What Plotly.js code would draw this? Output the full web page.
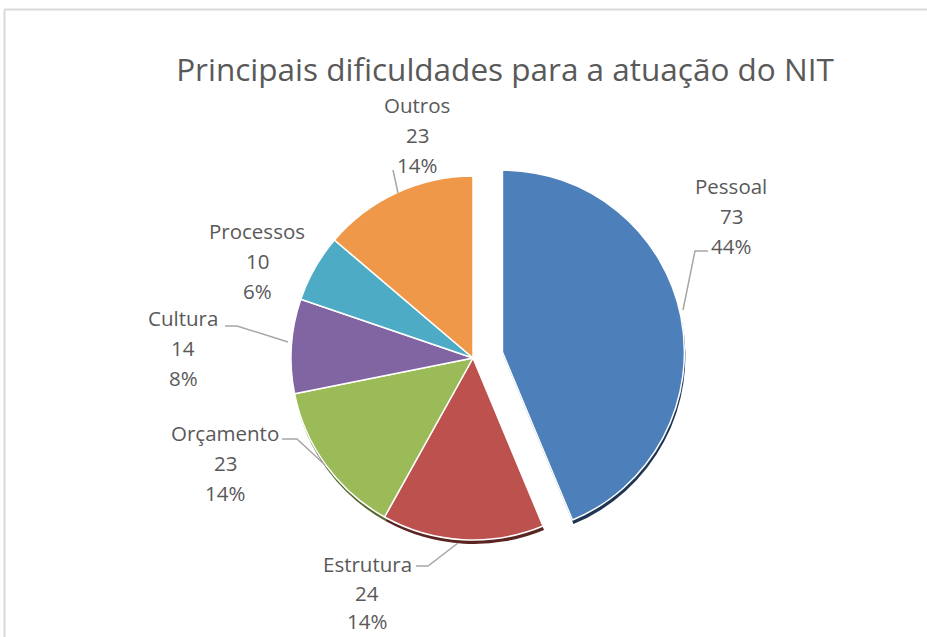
<!DOCTYPE html>
<html>
<head>
<meta charset="utf-8">
<script src="https://cdn.plot.ly/plotly-3.0.1.min.js"></script>
<style>
  html, body { margin: 0; padding: 0; background: #ffffff; }
  #chart { width: 927px; height: 637px; }
</style>
</head>
<body>
<div id="chart"></div>
<script>
// ---- Data ----
const categories = ['Pessoal', 'Estrutura', 'Orçamento', 'Cultura', 'Processos', 'Outros'];
const values = [73, 24, 23, 14, 10, 23];
const percentLabels = ['44%', '14%', '14%', '8%', '6%', '14%'];
const colors = ['#4d7fba', '#bc514e', '#9bbb59', '#8065a2', '#4dabc5', '#f0984a'];
const shadowColors = ['#1f3552', '#5a2422', '#55672f', 'rgba(0,0,0,0)', 'rgba(0,0,0,0)', 'rgba(0,0,0,0)'];
const pulls = [0.165, 0, 0, 0, 0, 0];
const chartTitle = 'Principais dificuldades para a atuação do NIT';

// ---- Layout helpers (pixel -> paper, margins are zero) ----
const W = 927, H = 637;
const px = x => x / W;
const py = y => 1 - y / H;

// label anchor (centre of first text line), line gap and leader line per category
const labelPos = [
  { x: 731, y: 186, gap: 30, line: [[708, 251], [695, 251], [683, 310]] },
  { x: 367, y: 564, gap: 28.5, line: [[416, 566], [428, 566], [458, 543]] },
  { x: 225, y: 433, gap: 30, line: [[282, 439], [297, 439], [325, 465]] },
  { x: 183, y: 318, gap: 30, line: [[225, 326], [237, 326], [288, 342]] },
  { x: 257, y: 231, gap: 30, line: null },
  { x: 417, y: 105, gap: 30, line: [[393, 170], [398, 193]] }
];
const labelFont = { family: 'Open Sans, sans-serif', size: 20.5, color: '#595959' };

const annotations = [];
const shapes = [];
categories.forEach((c, i) => {
  const lines = [c, String(values[i]), percentLabels[i]];
  lines.forEach((t, k) => {
    annotations.push({
      text: t, xref: 'paper', yref: 'paper',
      x: px(labelPos[i].x), y: py(labelPos[i].y + k * labelPos[i].gap),
      xanchor: 'center', yanchor: 'middle', showarrow: false, font: labelFont
    });
  });
  const ln = labelPos[i].line;
  if (ln) {
    const path = 'M ' + ln.map(p => px(p[0]) + ',' + py(p[1])).join(' L ');
    shapes.push({ type: 'path', xref: 'paper', yref: 'paper', path: path,
      line: { color: '#a6a6a6', width: 1.5 } });
  }
});

// chart-area border (top and left edges visible)
shapes.push({ type: 'line', xref: 'paper', yref: 'paper', x0: px(4), x1: px(940), y0: py(9.5), y1: py(9.5),
  line: { color: '#d9d9d9', width: 2 } });
shapes.push({ type: 'line', xref: 'paper', yref: 'paper', x0: px(4.5), x1: px(4.5), y0: py(9.5), y1: py(660),
  line: { color: '#d9d9d9', width: 2 } });

const cx = 473, cy = 358, half = 212;
const sdx = 1, sdy = 4;

const shadow = {
  type: 'pie',
  labels: categories,
  values: values,
  sort: false,
  direction: 'clockwise',
  rotation: 0,
  pull: pulls,
  textinfo: 'none',
  hoverinfo: 'skip',
  marker: { colors: shadowColors, line: { color: 'rgba(0,0,0,0)', width: 0 } },
  domain: { x: [px(cx + sdx - half), px(cx + sdx + half)], y: [py(cy + sdy + half), py(cy + sdy - half)] },
  showlegend: false
};

const trace = {
  type: 'pie',
  labels: categories,
  values: values,
  sort: false,
  direction: 'clockwise',
  rotation: 0,
  pull: pulls,
  textinfo: 'none',
  hoverinfo: 'label+value+percent',
  marker: { colors: colors, line: { color: '#ffffff', width: 1.5 } },
  domain: { x: [px(cx - half), px(cx + half)], y: [py(cy + half), py(cy - half)] },
  showlegend: false
};

const layout = {
  width: W, height: H,
  margin: { l: 0, r: 0, t: 0, b: 0 },
  paper_bgcolor: '#ffffff',
  plot_bgcolor: '#ffffff',
  showlegend: false,
  title: {
    text: chartTitle,
    font: { family: 'Open Sans, sans-serif', size: 31.5, color: '#595959' },
    x: px(505), xref: 'paper', xanchor: 'center',
    y: py(70), yref: 'paper', yanchor: 'middle'
  },
  annotations: annotations,
  shapes: shapes
};

Plotly.newPlot('chart', [shadow, trace], layout, { displayModeBar: false, staticPlot: true });
</script>
</body>
</html>
